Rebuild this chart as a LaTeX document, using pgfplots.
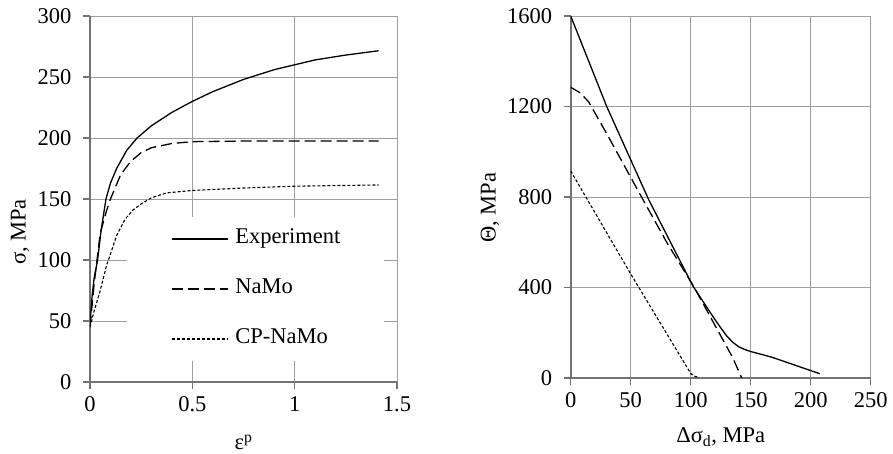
\documentclass[border=0pt]{standalone}
\usepackage{pgfplots}
\pgfplotsset{compat=1.18}
\usepackage{fontspec}
\setmainfont{Liberation Serif}
\begin{document}
\begin{tikzpicture}
\path[use as bounding box] (0pt,0pt) rectangle (893pt,454pt);
\pgfplotsset{
  every axis/.append style={
    scale only axis,
    axis lines*=left,
    grid=major,
    major grid style={draw=black!38, line width=0.9pt},
    axis line style={draw=black!55, line width=1.6pt},
    tick align=outside,
    major tick length=7pt,
    tick style={draw=black!55, line width=1.2pt},
    font=\fontsize{22.5}{26}\selectfont,
    /pgf/number format/assume math mode=true,
    /pgf/number format/1000 sep={},
    tick label style={font=\fontsize{22.5}{26}\selectfont},
    label style={font=\fontsize{22.5}{26}\selectfont},
    xticklabel style={yshift=-4pt},
    yticklabel style={xshift=-8pt},
  },
}
\begin{axis}[
  at={(90pt,72pt)}, anchor=south west,
  width=307pt, height=366pt,
  xmin=0, xmax=1.5, ymin=0, ymax=300,
  xtick={0,0.5,1,1.5}, ytick={0,50,100,150,200,250,300},
  xticklabels={0,0.5,1,1.5},
  xlabel={ε\textsuperscript{p}},
  ylabel={σ, MPa},
  xlabel style={at={(axis description cs:0.5,-0.165)}, anchor=center},
  ylabel style={at={(axis description cs:-0.228,0.41)}, anchor=center},
  legend cell align=left,
  legend style={at={(axis description cs:0.12,0.45)}, anchor=north west,
    draw=none, fill=white, inner xsep=44pt, inner ysep=12pt,
    row sep=31pt,
    nodes={text height=14pt, text depth=5pt, inner sep=0pt}},
  legend image code/.code={\draw[#1] (0pt,0pt) -- (56pt,0pt); \path (63pt,0pt);},
]
\addplot[black, line width=1.3pt] coordinates {
(0,48) (0.01,70) (0.02,85) (0.037,100) (0.055,125) (0.078,150) (0.1,163)
(0.13,175) (0.18,190) (0.23,200) (0.3,210) (0.4,221) (0.5,230) (0.6,238)
(0.75,248) (0.9,256) (1.0,260) (1.1,264) (1.25,268) (1.41,271.5)};
\addlegendentry{Experiment}
\addplot[black, line width=1.3pt, dash pattern=on 11pt off 5pt] coordinates {
(0,45) (0.02,80) (0.05,122) (0.08,140) (0.1,150) (0.15,170) (0.2,181)
(0.25,188) (0.3,192) (0.4,195.5) (0.5,197) (0.75,197.5) (1.0,197.5) (1.41,197.5)};
\addlegendentry{NaMo}
\addplot[black, line width=1.1pt, dash pattern=on 3pt off 2pt] coordinates {
(0,45) (0.02,58) (0.05,75) (0.08,95) (0.1,105) (0.13,120) (0.17,133)
(0.21,141) (0.25,146) (0.3,151) (0.375,155) (0.5,157) (0.75,159) (1.0,160.5) (1.41,161.5)};
\addlegendentry{CP-NaMo}
\end{axis}
\begin{axis}[
  at={(570.7pt,76pt)}, anchor=south west,
  width=300pt, height=362pt,
  xmin=0, xmax=250, ymin=0, ymax=1600,
  xtick={0,50,100,150,200,250}, ytick={0,400,800,1200,1600},
  xlabel={Δσ\textsubscript{d}, MPa},
  ylabel={Θ, MPa},
  xlabel style={at={(axis description cs:0.5,-0.163)}, anchor=center},
  ylabel style={at={(axis description cs:-0.269,0.47)}, anchor=center},
]
\addplot[black, line width=1.3pt] coordinates {
(0,1600) (30,1200) (65,788) (102,405) (113,316) (120,260) (125,222) (130,186)
(135,158) (140,138) (145,126) (150,117) (160,103) (168.7,90) (207.5,19)};
\addplot[black, line width=1.3pt, dash pattern=on 11pt off 5pt] coordinates {
(0,1285) (8,1260) (15,1220) (30,1080) (59,800) (80,600) (103,400) (120,235) (135,90) (142.5,0)};
\addplot[black, line width=1.1pt, dash pattern=on 3pt off 2pt] coordinates {
(0,915) (50,460) (100,20) (103,8) (107,3)};
\end{axis}
\end{tikzpicture}
\end{document}
